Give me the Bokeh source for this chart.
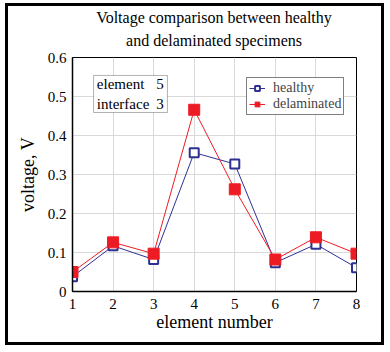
from bokeh.plotting import figure
from bokeh.models import (FixedTicker, Legend, LegendItem, BoxAnnotation, Label, Range1d, Div)
from bokeh.layouts import column
from bokeh.embed import file_html
from bokeh.resources import INLINE

# ---- data ----
elements = [1, 2, 3, 4, 5, 6, 7, 8]
healthy = [0.038, 0.117, 0.082, 0.356, 0.327, 0.074, 0.121, 0.061]
delaminated = [0.050, 0.126, 0.097, 0.466, 0.262, 0.082, 0.139, 0.097]
y_ticks = [0, 0.1, 0.2, 0.3, 0.4, 0.5, 0.6]
y_tick_labels = ["0", "0.1", "0.2", "0.3", "0.4", "0.5", "0.6"]
title_lines = ["Voltage comparison between healthy", "and delaminated specimens"]
info_names = ["element", "interface"]
info_values = ["5", "3"]

FONT = "Liberation Serif"
BLUE = "#2e3192"
RED = "#ed1c24"

W = 373
TITLE_H = 44
H = 292
ML, MR, MT, MB = 64, 25, 7, 51
TITLE_SHIFT = 39  # centres the title over the plot frame

title_html = ('<div style="width:%dpx; margin:0 0 0 %dpx; padding:0; text-align:center; '
              'font-family:\'Liberation Serif\'; font-size:16px; line-height:23px; '
              'color:black; white-space:nowrap;">%s</div>') % (
                  W - TITLE_SHIFT, TITLE_SHIFT, "<br>".join(title_lines))

title = Div(text=title_html, width=W, height=TITLE_H,
            styles={"margin": "0", "padding": "0"},
            stylesheets=[":host { margin: 0 !important; padding: 0 !important; }"])

p = figure(width=W, height=H, output_backend="svg", toolbar_location=None,
           x_range=Range1d(1, 8), y_range=Range1d(0, 0.6),
           min_border_left=ML, min_border_right=MR, min_border_top=MT, min_border_bottom=MB)
p.background_fill_color = "white"
p.border_fill_color = "white"
p.outline_line_color = "black"
p.outline_line_width = 1

# axes
p.xaxis.ticker = FixedTicker(ticks=elements)
p.yaxis.ticker = FixedTicker(ticks=y_ticks)
p.yaxis.major_label_overrides = {v: s for v, s in zip(y_ticks, y_tick_labels)}
for ax in (p.xaxis[0], p.yaxis[0]):
    ax.major_tick_line_color = None
    ax.minor_tick_line_color = None
    ax.major_tick_out = 0
    ax.major_tick_in = 0
    ax.minor_tick_out = 0
    ax.axis_line_color = "black"
    ax.axis_line_width = 1.5
    ax.major_label_text_font = FONT
    ax.major_label_text_font_size = "15px"
    ax.major_label_text_color = "black"
    ax.axis_label_text_font = FONT
    ax.axis_label_text_font_size = "18px"
    ax.axis_label_text_font_style = "normal"
    ax.axis_label_text_color = "black"
p.xaxis.axis_label = "element number"
p.yaxis.axis_label = "voltage, V"
p.xaxis.major_label_standoff = 7
p.yaxis.major_label_standoff = 6
p.xaxis.axis_label_standoff = 0
p.yaxis.axis_label_standoff = 7

p.grid.grid_line_color = "#d9d9d9"
p.grid.grid_line_width = 1

# series
lh = p.line(elements, healthy, line_color=BLUE, line_width=1)
mh = p.scatter(elements, healthy, marker="square", size=9, line_color=BLUE,
               line_width=2, fill_color="white")
ld = p.line(elements, delaminated, line_color=RED, line_width=1)
md = p.scatter(elements, delaminated, marker="square", size=11, line_color=RED,
               fill_color=RED)

legend = Legend(items=[LegendItem(label="healthy", renderers=[lh, mh]),
                       LegendItem(label="delaminated", renderers=[ld, md])],
                location=(174, 176), label_text_font=FONT, label_text_font_size="14px",
                glyph_width=16, glyph_height=12, label_height=12, label_standoff=8,
                padding=2, spacing=0,
                border_line_color="black", border_line_width=1,
                background_fill_color="white", background_fill_alpha=1, margin=0)
p.add_layout(legend, "center")

# info box
p.add_layout(BoxAnnotation(left=1.52, right=3.34, bottom=0.459, top=0.554,
                           fill_color="white", fill_alpha=1, line_color="black",
                           line_width=1, level="annotation"))
for name, val, yv in zip(info_names, info_values, [0.531, 0.482]):
    p.add_layout(Label(x=1.6, y=yv, text=name, text_font=FONT, text_font_size="15px",
                       text_baseline="middle", text_align="left", text_color="black"))
    p.add_layout(Label(x=3.25, y=yv, text=val, text_font=FONT, text_font_size="15px",
                       text_baseline="middle", text_align="right", text_color="black"))

layout = column(title, p, spacing=0,
                styles={"border": "3px solid black", "margin-left": "5px",
                        "margin-top": "3px", "background-color": "white"})

open("out.html", "w").write(file_html(layout, INLINE))
